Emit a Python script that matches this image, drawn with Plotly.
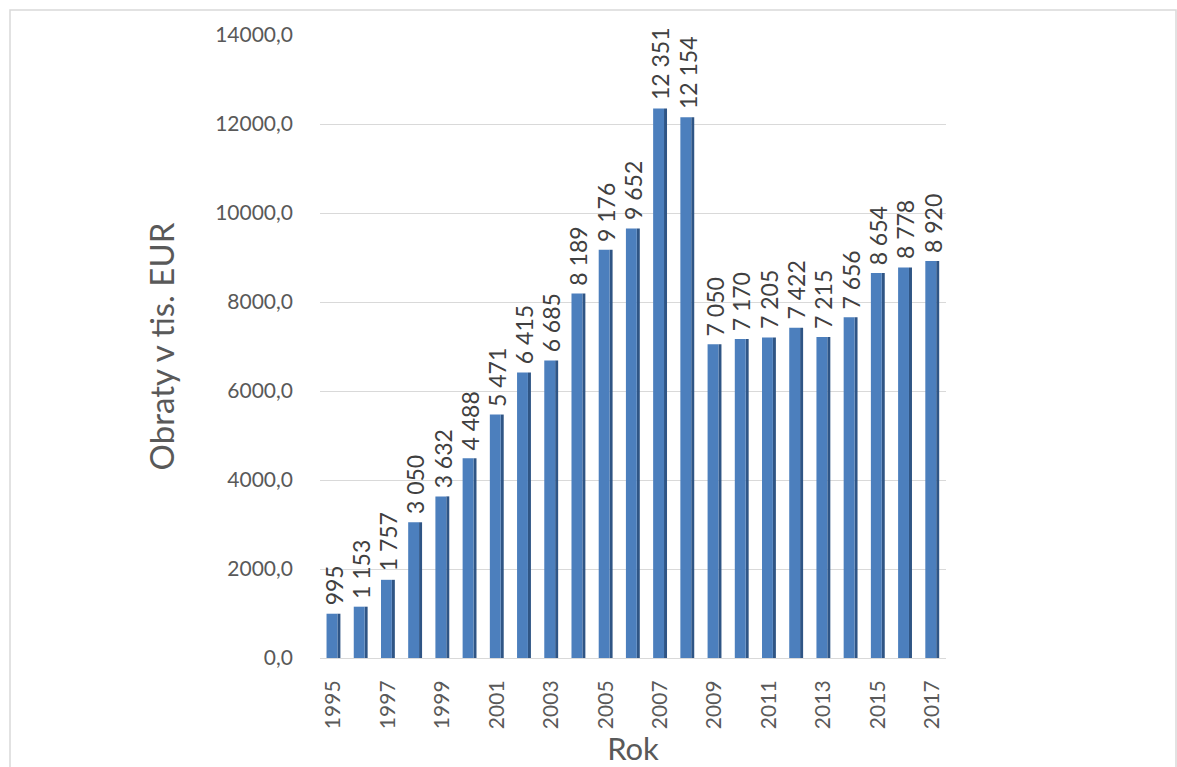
import plotly.graph_objects as go

years = [str(y) for y in range(1995, 2018)]
values = [995, 1153, 1757, 3050, 3632, 4488, 5471, 6415, 6685, 8189, 9176, 9652,
          12351, 12154, 7050, 7170, 7205, 7422, 7215, 7656, 8654, 8778, 8920]
y_ticks = [0, 2000, 4000, 6000, 8000, 10000, 12000, 14000]
y_ticktext = [f"{v},0" for v in y_ticks]
x_ticks = years[::2]

labels = [f"{v:,}".replace(",", " ") for v in values]

FONT = "Lato"
fig = go.Figure()
# dark side face (pseudo 3D)
fig.add_trace(go.Bar(x=years, y=values, width=0.11, offset=0.14,
                     marker=dict(color="#2f5585", line=dict(width=0)),
                     hoverinfo="skip", showlegend=False))
# front face
fig.add_trace(go.Bar(x=years, y=values, width=0.4, offset=-0.26,
                     marker=dict(color="#4c7fbd", line=dict(width=0)),
                     showlegend=False))

annotations = [dict(x=i, y=v, text=t, textangle=-90, showarrow=False,
                    xref="x", yref="y",
                    xanchor="center", yanchor="bottom", yshift=6,
                    font=dict(family=FONT, size=23, color="#404040"))
               for i, (v, t) in enumerate(zip(values, labels))]

fig.update_layout(
    width=1177, height=767,
    barmode="overlay",
    plot_bgcolor="white", paper_bgcolor="white",
    margin=dict(l=320, r=231, t=35, b=109),
    font=dict(family=FONT, color="#595959"),
    annotations=annotations,
    xaxis=dict(
        type="category", tickmode="array", tickvals=x_ticks, ticktext=x_ticks,
        range=[-0.5, len(years) - 0.5],
        tickangle=-90, tickfont=dict(size=21, color="#595959"),
        ticklabelstandoff=13,
        showgrid=False, showline=True, linecolor="#d9d9d9", ticks="",
        title=dict(text="Rok", font=dict(size=31, color="#595959"), standoff=2),
    ),
    yaxis=dict(
        range=[0, 14000], tickmode="array", tickvals=y_ticks, ticktext=y_ticktext,
        tickfont=dict(size=21, color="#595959"),
        showgrid=True, gridcolor="#d9d9d9", zeroline=False, ticks="",
        ticklabelstandoff=26,
        title=dict(text="Obraty v tis. EUR", font=dict(size=33, color="#595959"), standoff=30),
    ),
    shapes=[dict(type="rect", xref="paper", yref="paper",
                 x0=(10 - 320) / 626, x1=(1176 - 320) / 626,
                 y0=(658 - 780) / 623, y1=(658 - 10) / 623,
                 line=dict(color="#d9d9d9", width=1.5), fillcolor="rgba(0,0,0,0)",
                 layer="below")],
)

fig.write_html("out.html")
